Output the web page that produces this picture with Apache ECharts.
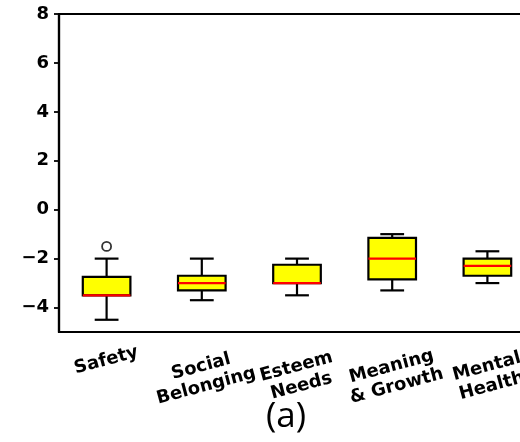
<!DOCTYPE html>
<html>
<head>
<meta charset="utf-8">
<script src="https://cdn.jsdelivr.net/npm/echarts@6/dist/echarts.min.js"></script>
<style>
  html, body { margin: 0; padding: 0; background: #fff; }
  #myChart { width: 520px; height: 442px; }
</style>
</head>
<body>
<div id="myChart"></div>
<script>
// data
const categories = ['Safety', 'Social\nBelonging', 'Esteem\nNeeds', 'Meaning\n& Growth', 'Mental\nHealth'];
const whiskerLow = [-4.5, -3.7, -3.5, -3.3, -3.0];
const q1 = [-3.5, -3.3, -3.0, -2.85, -2.7];
const medians = [-3.5, -3.0, -3.0, -2.0, -2.3];
const q3 = [-2.75, -2.7, -2.25, -1.15, -2.0];
const whiskerHigh = [-2.0, -2.0, -2.0, -1.0, -1.7];
const outliers = [[0, -1.5]];
const yTicks = [-4, -2, 0, 2, 4, 6, 8];

const boxData = categories.map(function (c, i) {
  return [i, whiskerLow[i], q1[i], medians[i], q3[i], whiskerHigh[i]];
});

// two-line labels sit a little lower so all rotated labels share one top edge
const axisData = categories.map(function (c) {
  return c.indexOf('\n') >= 0
    ? { value: c, textStyle: { align: 'center', verticalAlign: 'top', padding: [6, 10, 0, 0] } }
    : c;
});

function renderBox(params, api) {
  const i = api.value(0);
  const band = api.size([1, 0])[0];
  const half = band * 0.25;
  const cap = band * 0.125;
  const x = api.coord([i, 0])[0];
  const yLow = api.coord([i, api.value(1)])[1];
  const yQ1 = api.coord([i, api.value(2)])[1];
  const yMed = api.coord([i, api.value(3)])[1];
  const yQ3 = api.coord([i, api.value(4)])[1];
  const yHigh = api.coord([i, api.value(5)])[1];
  const black = { stroke: '#000', lineWidth: 2.2, fill: null };
  return {
    type: 'group',
    children: [
      { type: 'line', shape: { x1: x, y1: yQ1, x2: x, y2: yLow }, style: black },
      { type: 'line', shape: { x1: x, y1: yQ3, x2: x, y2: yHigh }, style: black },
      { type: 'line', shape: { x1: x - cap, y1: yLow, x2: x + cap, y2: yLow }, style: black },
      { type: 'line', shape: { x1: x - cap, y1: yHigh, x2: x + cap, y2: yHigh }, style: black },
      { type: 'rect', shape: { x: x - half, y: yQ3, width: half * 2, height: yQ1 - yQ3 },
        style: { fill: '#ffff00', stroke: '#000', lineWidth: 2.2 } },
      { type: 'line', shape: { x1: x - half, y1: yMed, x2: x + half, y2: yMed },
        style: { stroke: '#ff0000', lineWidth: 2.2 } }
    ]
  };
}

let myChart = echarts.init(document.getElementById('myChart'));
myChart.setOption({
  animation: false,
  grid: {
    left: 59, top: 14, width: 476, height: 318,
    show: true, borderColor: '#000', borderWidth: 2.2,
    containLabel: false, outerBoundsMode: 'none'
  },
  xAxis: {
    type: 'category',
    data: axisData,
    axisLine: { onZero: false, lineStyle: { color: '#000', width: 2.2 } },
    axisTick: { alignWithLabel: true, length: 5, lineStyle: { color: '#000', width: 1.8 } },
    axisLabel: {
      interval: 0, rotate: 15, align: 'center', verticalAlign: 'top', margin: 18,
      padding: [0, 6, 0, 0],
      color: '#000', fontFamily: 'DejaVu Sans', fontWeight: 'bold', fontSize: 18, lineHeight: 20
    }
  },
  yAxis: {
    type: 'value',
    min: -5, max: 8,
    splitLine: { show: false },
    axisLine: { show: true, lineStyle: { color: '#000', width: 2.2 } },
    axisTick: { show: true, length: 5, customValues: yTicks, lineStyle: { color: '#000', width: 1.8 } },
    axisLabel: {
      customValues: yTicks, margin: 10,
      color: '#000', fontFamily: 'DejaVu Sans', fontWeight: 'bold', fontSize: 18,
      formatter: function (v) { return v < 0 ? '\u2212' + Math.abs(v) : String(v); }
    }
  },
  graphic: [{
    type: 'text', left: 266, top: 400,
    style: { text: '(a)', font: '35px "Open Sans"', fill: '#000' }
  }],
  series: [
    {
      type: 'custom',
      renderItem: renderBox,
      encode: { x: 0, y: [1, 2, 3, 4, 5] },
      data: boxData
    },
    {
      type: 'scatter',
      symbol: 'circle', symbolSize: 9,
      itemStyle: { color: '#fff', borderColor: '#000', borderWidth: 1.8 },
      data: outliers
    }
  ]
});
</script>
</body>
</html>
